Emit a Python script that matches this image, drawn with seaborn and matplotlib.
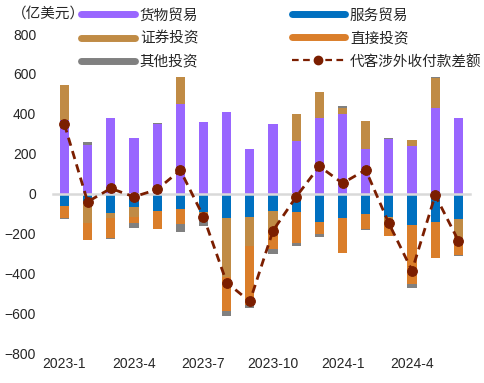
import numpy as np
import pandas as pd
import seaborn as sns
import matplotlib.pyplot as plt
from matplotlib.lines import Line2D

# Monthly data (100 million USD)
months = ['2023-1', '2023-2', '2023-3', '2023-4', '2023-5', '2023-6',
          '2023-7', '2023-8', '2023-9', '2023-10', '2023-11', '2023-12',
          '2024-1', '2024-2', '2024-3', '2024-4', '2024-5', '2024-6']
goods = [367, 242, 377, 277, 347, 447, 357, 407, 222, 347, 262, 381, 401, 222, 272, 241, 429, 377]
services = [-61, -37, -98, -68, -88, -78, -92, -123, -118, -88, -93, -143, -123, -103, -118, -158, -143, -128]
securities = [180, -112, -25, -50, 0, 140, -10, -296, -145, -95, 135, 131, 30, 140, -30, 26, 153, -100]
direct = [-62, -83, -100, -30, -90, -75, -30, -169, -295, -95, -155, -60, -175, -75, -65, -295, -180, -80]
other = [-5, 17, -5, -25, 7, -40, -29, -25, -15, -25, -13, -15, 6, -5, 5, -18, 5, -5]
net = [347, -41, 26, -16, 21, 117, -116, -446, -541, -186, -16, 137, 52, 119, -149, -386, -8, -236]

names = ['货物贸易', '服务贸易', '证券投资', '直接投资', '其他投资']
colors = ['#9966FF', '#0070C0', '#C08B45', '#DA7E2A', '#808080']
line_color = '#7B1E00'

df = pd.DataFrame({'month': months, '货物贸易': goods, '服务贸易': services,
                   '证券投资': securities, '直接投资': direct, '其他投资': other,
                   '代客涉外收付款差额': net})

sns.set_style('white')
plt.rcParams['font.family'] = ['Liberation Sans', 'Noto Sans CJK SC']

fig = plt.figure(figsize=(4.85, 3.83), dpi=100)
ax = fig.add_axes([0.109, 0.078, 0.86, 0.833])

x = np.arange(len(months))
pos_bottom = np.zeros(len(months))
neg_bottom = np.zeros(len(months))
for name, c in zip(names, colors):
    v = df[name].to_numpy(dtype=float)
    bottom = np.where(v >= 0, pos_bottom, neg_bottom)
    ax.bar(x, v, bottom=bottom, width=0.4, color=c, linewidth=0, zorder=2)
    pos_bottom += np.where(v > 0, v, 0)
    neg_bottom += np.where(v < 0, v, 0)

sns.lineplot(x=x, y=df['代客涉外收付款差额'], ax=ax, color=line_color, lw=2,
             linestyle=(0, (3, 2)), marker='o', markersize=7,
             markeredgecolor=line_color, zorder=4)

ax.set_xlim(-0.5, len(months) - 0.5)
ax.set_ylim(-800, 800)
ax.set_yticks(range(-800, 801, 200))
ax.set_ylabel('')
ax.set_xlabel('')
ax.tick_params(axis='y', length=0, labelsize=10, pad=12)

for s in ['top', 'right', 'left']:
    ax.spines[s].set_visible(False)
ax.spines['bottom'].set_position(('data', 0))
ax.spines['bottom'].set_color('#D9D9D9')
ax.spines['bottom'].set_linewidth(1.8)
ax.spines['bottom'].set_zorder(3)
ax.set_xticks([])
ax.set_xticks(np.arange(-0.5, len(months), 3), minor=True)
ax.tick_params(axis='x', which='minor', length=4, width=1.8, color='#D9D9D9', direction='out')

sec = ax.secondary_xaxis(0.0)
sec.set_xticks(x[::3])
sec.set_xticklabels(months[::3])
sec.tick_params(length=0, labelsize=10, pad=3)
sec.spines['bottom'].set_visible(False)

handles = [Line2D([], [], color=colors[0], lw=5),
           Line2D([], [], color=colors[2], lw=5),
           Line2D([], [], color=colors[4], lw=5),
           Line2D([], [], color=colors[1], lw=5),
           Line2D([], [], color=colors[3], lw=5),
           Line2D([], [], color=line_color, lw=1.6, linestyle=(0, (3, 2)),
                  marker='o', markersize=6)]
labels = ['货物贸易', '证券投资', '其他投资', '服务贸易', '直接投资', '代客涉外收付款差额']
fig.legend(handles, labels, ncol=2, loc='upper left', bbox_to_anchor=(80 / 485, 1 - 7 / 383),
           frameon=False, handlelength=3.65, handletextpad=0.35,
           columnspacing=6.4, labelspacing=0.62, borderpad=0.1, borderaxespad=0,
           prop={'family': ['Noto Sans CJK SC'], 'size': 10.5})

fig.text(12 / 485, 1 - 14 / 383, '（亿美元）', fontsize=10.5, va='center', ha='left',
         family=['Noto Sans CJK SC'])

fig.savefig('out.png', dpi=100)
